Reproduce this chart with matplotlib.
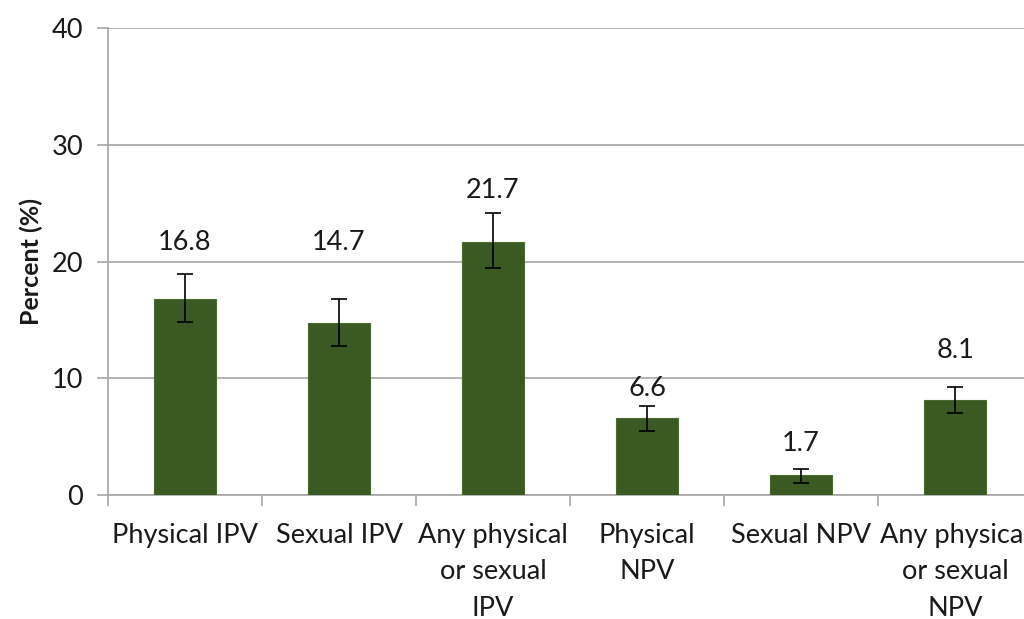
import matplotlib
matplotlib.use("Agg")
import matplotlib.pyplot as plt
import numpy as np

categories = ["Physical IPV", "Sexual IPV", "Any physical\nor sexual\nIPV",
              "Physical\nNPV", "Sexual NPV", "Any physical\nor sexual\nNPV"]
values = [16.8, 14.7, 21.7, 6.6, 1.7, 8.1]
ci_lower = [14.8, 12.8, 19.45, 5.5, 1.05, 7.05]
ci_upper = [18.9, 16.8, 24.15, 7.65, 2.23, 9.28]
label_y = [21.6, 21.6, 26.1, 9.1, 4.45, 12.4]

plt.rcParams['font.family'] = ['Lato', 'DejaVu Sans']

fig = plt.figure(figsize=(10.24, 6.19), dpi=100)
ax = fig.add_axes([108/1024, 1-495/619, 924/1024, 467/619])

x = np.arange(len(categories))
yerr = [np.array(values) - np.array(ci_lower), np.array(ci_upper) - np.array(values)]
ax.bar(x, values, width=0.4, color='#3B5923', edgecolor='#4A6B30', linewidth=0.8, zorder=3)
ax.errorbar(x, values, yerr=yerr, fmt='none', ecolor='black', elinewidth=1.2,
            capsize=6, capthick=1.2, zorder=4)

for xi, v, ly in zip(x, values, label_y):
    ax.text(xi, ly, f"{v:.1f}", ha='center', va='center', fontsize=19.5, color='#1a1a1a')

ax.set_xlim(-0.5, 5.5)
ax.set_ylim(0, 40)
ax.set_yticks([0, 10, 20, 30, 40])
ax.yaxis.grid(True, color='#A6A6A6', linewidth=1.2, zorder=0)
ax.set_axisbelow(True)

ax.set_xticks(x)
ax.set_xticklabels(categories, fontsize=19.5, linespacing=1.57, color='#1a1a1a')
ax.set_xticks(np.arange(-0.5, 6.0, 1.0), minor=True)
ax.tick_params(axis='x', which='major', length=0, pad=20)
ax.tick_params(axis='x', which='minor', length=8, color='#A6A6A6', width=1.2)
ax.tick_params(axis='y', length=8, color='#A6A6A6', width=1.2, labelsize=19.5,
               pad=10, labelcolor='#1a1a1a')

for side in ['top', 'right']:
    ax.spines[side].set_visible(False)
for side in ['left', 'bottom']:
    ax.spines[side].set_color('#A6A6A6')
    ax.spines[side].set_linewidth(1.2)

ax.set_ylabel("Percent (%)", fontsize=18, fontweight='bold', labelpad=6, color='#1a1a1a')

fig.savefig("out.png", dpi=100)
